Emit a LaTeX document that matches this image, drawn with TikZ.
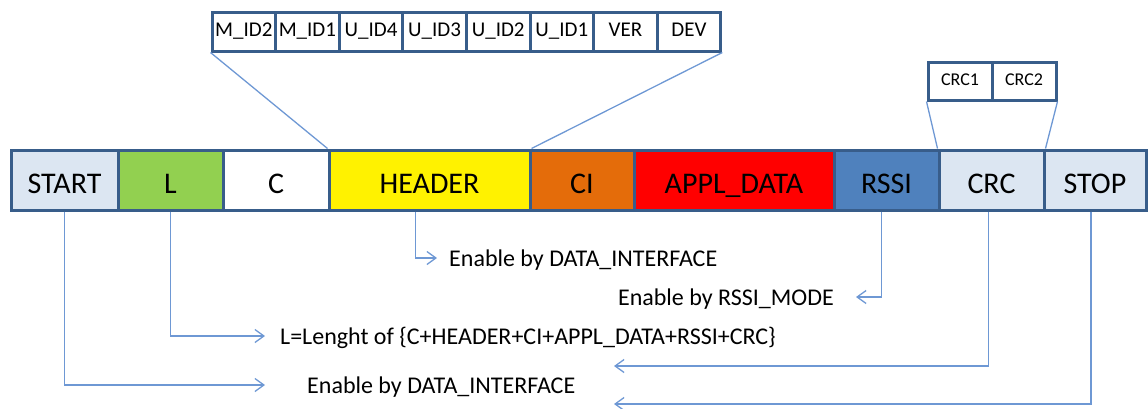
\documentclass[tikz,border=0pt]{standalone}
\usepackage{fontspec}
\setmainfont{Carlito}
\usetikzlibrary{arrows.meta}

\definecolor{rahmen}{RGB}{56,93,138}
\definecolor{linie}{RGB}{110,152,212}
\definecolor{hellblau}{RGB}{220,230,242}
\definecolor{gruen}{RGB}{146,208,80}
\definecolor{ciorange}{RGB}{228,108,10}
\definecolor{rssiblau}{RGB}{79,129,189}

\begin{document}
\begin{tikzpicture}[x=1pt,y=-1pt,
    feld/.style={draw=rahmen,line width=3pt,minimum height=60pt,inner sep=0pt,
      text height=26pt,text depth=0pt,font=\fontsize{30}{36}\selectfont},
    klein/.style={draw=rahmen,line width=3pt,minimum height=39pt,minimum width=63.6pt,
      inner sep=0pt,text height=13.5pt,text depth=4.5pt,font=\fontsize{21}{25}\selectfont},
    conn/.style={draw=linie,line width=1.3pt},
    pfeil/.style={conn,-{Straight Barb[length=9pt,width=13pt]}},
    txt/.style={inner sep=0pt,font=\fontsize{24}{29}\selectfont}]
        \useasboundingbox (0,0) rectangle (1148,408);

        % Rahmen (Hauptzeile)
        \node[feld,fill=hellblau,minimum width=107pt] (start) at (64.5,180) {START};
        \node[feld,fill=gruen,minimum width=105pt] (l) at (170.5,180) {L};
        \node[feld,fill=white,minimum width=106pt] (c) at (276,180) {C};
        \node[feld,fill=yellow,minimum width=201pt] (header) at (429.5,180) {HEADER};
        \node[feld,fill=ciorange,minimum width=104pt] (ci) at (582,180) {CI};
        \node[feld,fill=red,minimum width=200pt] (appl) at (734,180) {APPL\_DATA};
        \node[feld,fill=rssiblau,minimum width=105pt] (rssi) at (886.5,180) {RSSI};
        \node[feld,fill=hellblau,minimum width=105pt] (crc) at (991.5,180) {CRC};
        \node[feld,fill=hellblau,minimum width=102pt] (stop) at (1095,180) {STOP};

        % Felder des Headers
        \foreach \t [count=\i] in {M\_ID2,M\_ID1,U\_ID4,U\_ID3,U\_ID2,U\_ID1,VER,DEV}
            \node[klein] (id\i) at ({212+63.6*(\i-0.5)},31.5) {\t};
        \draw[conn] (id1.south west) -- (header.north west);
        \draw[conn] (id8.south east) -- (header.north east);

        % Felder des CRC
        \node[klein,minimum width=64pt,minimum height=38pt,text height=11pt,text depth=3pt,
            font=\fontsize{18}{22}\selectfont] (crc1) at (960,81) {CRC1};
        \node[klein,minimum width=64pt,minimum height=38pt,text height=11pt,text depth=3pt,
            font=\fontsize{18}{22}\selectfont] (crc2) at (1024,81) {CRC2};
        \draw[conn] (crc1.south west) -- (crc.north west);
        \draw[conn] (crc2.south east) -- (crc.north east);

        % Erklaerungen
        \node[txt,anchor=base west] (hdrtxt) at (449,266) {Enable by DATA\_INTERFACE};
        \node[txt,anchor=base east] (rssitxt) at (834,305) {Enable by RSSI\_MODE};
        \node[txt,anchor=base west] (lentxt) at (280,344) {L=Lenght of \{C+HEADER+CI+APPL\_DATA+RSSI+CRC\}};
        \node[txt,anchor=base west] (starttxt) at (307,393) {Enable by DATA\_INTERFACE};

        % Pfeile
        \coordinate (hdrend) at (437,258);
        \coordinate (rssiend) at (856,297);
        \coordinate (lenend) at (265,336);
        \coordinate (crcend) at (614,366);
        \coordinate (startend) at (265,385);
        \coordinate (stopend) at (614,404);
        \draw[pfeil] ([xshift=-14pt]header.south) |- (hdrend);
        \draw[pfeil] ([xshift=-5pt]rssi.south) |- (rssiend);
        \draw[pfeil] (l.south) |- (lenend);
        \draw[pfeil] ([xshift=-3pt]crc.south) |- (crcend);
        \draw[pfeil] (start.south) |- (startend);
        \draw[pfeil] ([xshift=-4pt]stop.south) |- (stopend);

\end{tikzpicture}
\end{document}
